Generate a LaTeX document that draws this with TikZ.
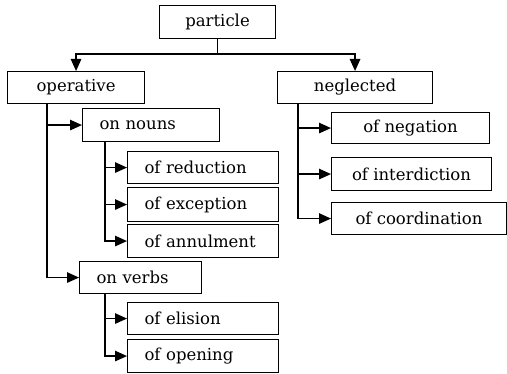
\documentclass[tikz,border=0pt]{standalone}
\usepackage{fontspec}
\setmainfont{DejaVu Serif}
\usetikzlibrary{arrows.meta,positioning}

\tikzset{
  box/.style={draw, line width=1.1pt, rectangle, inner ysep=0pt,
    font=\fontsize{16.5}{18}\selectfont, anchor=north west},
  cbox/.style={box, align=center, inner xsep=0pt},
  lbox/.style={box, align=left, inner xsep=17pt},
  link/.style={line width=1.3pt},
  arr/.style={link, -{Triangle[length=12pt,width=10.5pt]}}
}

\begin{document}
\begin{tikzpicture}[x=1pt,y=-1pt]
  \useasboundingbox (0,0) rectangle (507,374);

  % root
  \node[cbox, minimum width=116pt, minimum height=33pt] (particle) at (159,5) {particle};

  % first level
  \node[cbox, minimum width=137pt, minimum height=32pt] (operative) at (7,71) {operative};
  \node[cbox, minimum width=155pt, minimum height=32pt] (neglected) at (277,71) {neglected};

  % operative branch
  \node[lbox, text width=103pt, minimum height=33pt] (onnouns) at (82,108) {on nouns};
  \node[lbox, text width=117pt, minimum height=32pt] (reduction) at (127,151) {of reduction};
  \node[lbox, text width=117pt, minimum height=34pt] (exception) at (127,187) {of exception};
  \node[lbox, text width=117pt, minimum height=33pt] (annulment) at (127,224) {of annulment};
  \node[lbox, text width=88pt, minimum height=32pt] (onverbs) at (79,261) {on verbs};
  \node[lbox, text width=117pt, minimum height=32pt] (elision) at (127,302) {of elision};
  \node[lbox, text width=117pt, minimum height=33pt] (opening) at (127,339) {of opening};

  % neglected branch
  \node[cbox, minimum width=158pt, minimum height=31pt] (negation) at (331,112) {of negation};
  \node[cbox, minimum width=160pt, minimum height=33pt] (interdiction) at (331,157) {of interdiction};
  \node[cbox, minimum width=175pt, minimum height=32pt] (coordination) at (331,202) {of coordination};

  % root split
  \coordinate (split) at ([yshift=-15pt]particle.south);
  \draw[link] (particle.south) -- (split);
  \draw[arr] (split) -| (operative.north);
  \draw[arr] (split) -| (neglected.north);

  % stems
  \coordinate (opstem) at ([xshift=40pt]operative.south west);
  \draw[arr] (opstem) |- (onnouns.west);
  \draw[arr] (opstem) |- (onverbs.west);

  \coordinate (nounstem) at ([xshift=23pt]onnouns.south west);
  \draw[arr] (nounstem) |- (reduction.west);
  \draw[arr] (nounstem) |- (exception.west);
  \draw[arr] (nounstem) |- (annulment.west);

  \coordinate (verbstem) at ([xshift=26pt]onverbs.south west);
  \draw[arr] (verbstem) |- (elision.west);
  \draw[arr] (verbstem) |- (opening.west);

  \coordinate (negstem) at ([xshift=21pt]neglected.south west);
  \draw[arr] (negstem) |- (negation.west);
  \draw[arr] (negstem) |- (interdiction.west);
  \draw[arr] (negstem) |- (coordination.west);
\end{tikzpicture}
\end{document}
